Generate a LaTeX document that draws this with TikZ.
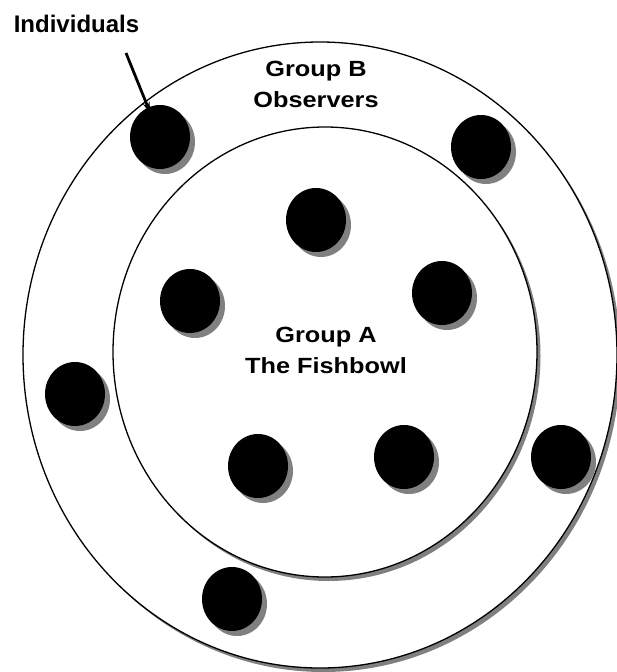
\documentclass[tikz,border=0pt]{standalone}
\usepackage{fontspec}
\setmainfont{Liberation Sans}
\newfontfamily\grpfont[FakeStretch=1.15]{Liberation Sans}
\usetikzlibrary{shapes.geometric, arrows.meta, shadows}

\begin{document}
\begin{tikzpicture}[
  x=1pt, y=-1pt,
  ring/.style={ellipse, draw=black, line width=1.3pt, fill=white, inner sep=0pt, drop shadow={shadow xshift=3.5pt, shadow yshift=-4pt, fill=black!50, opacity=1}},
  person/.style={ellipse, fill=black, minimum width=60pt, minimum height=64pt, inner sep=0pt, drop shadow={shadow xshift=5pt, shadow yshift=-5pt, fill=black!50, opacity=1}},
  grouplabel/.style={font=\grpfont\bfseries\fontsize{22}{31}\selectfont, align=center},
  pointer/.style={-{Stealth[length=11pt, width=7pt]}, line width=2.8pt}
]
\useasboundingbox (0,0) rectangle (617,672);

% Rings
\node[ring, minimum width=594pt, minimum height=626pt] (outer) at (320,355) {};
\node[ring, minimum width=424pt, minimum height=450pt] (inner) at (325,352) {};

% Individuals
\node[person] (p1) at (160,137) {};
\node[person] (p2) at (481,147) {};
\node[person] (p3) at (316,220) {};
\node[person] (p4) at (190,301) {};
\node[person] (p5) at (442,293) {};
\node[person] (p6) at (75,394) {};
\node[person] (p7) at (258,466) {};
\node[person] (p8) at (404,457) {};
\node[person] (p9) at (561,457) {};
\node[person] (p10) at (232,599) {};

% Labels
\node[grouplabel] (observers) at (316,84.5) {Group B\\Observers};
\node[grouplabel] (fishbowl) at (326,350) {Group A\\The Fishbowl};
\node[font=\bfseries\fontsize{24}{28}\selectfont] (individuals) at (76.5,23.5) {Individuals};

% Arrows
\coordinate (tail) at (126,53);
\draw[pointer, shorten >=-6pt] (tail) -- (p1);

\end{tikzpicture}
\end{document}
